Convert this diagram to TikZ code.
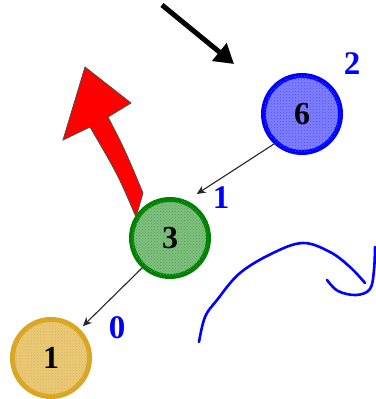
\documentclass[tikz,border=0pt]{standalone}
\usepackage{fontspec}
\setmainfont{Liberation Serif}
\usetikzlibrary{arrows.meta,patterns}
\definecolor{gold}{RGB}{218,165,32}
\definecolor{dgreen}{RGB}{0,128,0}
\begin{document}
\begin{tikzpicture}[x=1pt,y=-1pt,
  vert/.style={circle,line width=5pt,minimum size=77pt,inner sep=0pt,
    font=\fontsize{32}{32}\selectfont\bfseries},
  lab/.style={text=blue,font=\fontsize{33}{33}\selectfont\bfseries,inner sep=0pt},
  thin/.style={line width=1.1pt,draw=black!85,-{Stealth[length=9pt,width=8pt]}}]
\useasboundingbox (0,0) rectangle (375,399);
% red curved arrow
\fill[red,draw=black!70,line width=0.8pt]
  (136,217) .. controls (118,175) .. (90,127) -- (63,140) -- (85,67)
  -- (131,103) -- (108,117) .. controls (125,150) .. (143,193) -- cycle;
% nodes
\node[vert,draw=blue,fill=blue!50!white,postaction={pattern=crosshatch dots,pattern color=blue!70}] (n6) at (302,114) {6};
\node[vert,draw=dgreen,fill=dgreen!50!white,postaction={pattern=crosshatch dots,pattern color=dgreen!70}] (n3) at (170,238) {3};
\node[vert,draw=gold,fill=gold!60!white,postaction={pattern=crosshatch dots,pattern color=gold!80}] (n1) at (51,358) {1};
% labels
\node[lab] (l2) at (352,64) {2};
\node[lab] (l1) at (221,198) {1};
\node[lab] (l0) at (117,328) {0};
% thin arrows
\draw[thin,shorten >=12pt] (n6.227) -- (n3.66);
\draw[thin,shorten >=4pt] (n3.227) -- (n1.45);
% black arrow
\coordinate (ba) at (162,5);
\coordinate (bb) at (234,64);
\draw[line width=5pt,-{Triangle[length=19pt,width=22pt]}] (ba) -- (bb);
% blue squiggle
\draw[blue,line width=2.6pt,line cap=round,line join=round]
  plot[smooth,tension=0.6] coordinates {(199,342) (205,317) (217,300) (240,273) (273,253) (303,243) (330,252) (350,267) (365,283)};
\draw[blue,line width=2.6pt,line cap=round,line join=round]
  plot[smooth,tension=0.6] coordinates {(327,280) (338,291) (356,295) (370,289) (374,270) (375,247)};
\end{tikzpicture}
\end{document}
